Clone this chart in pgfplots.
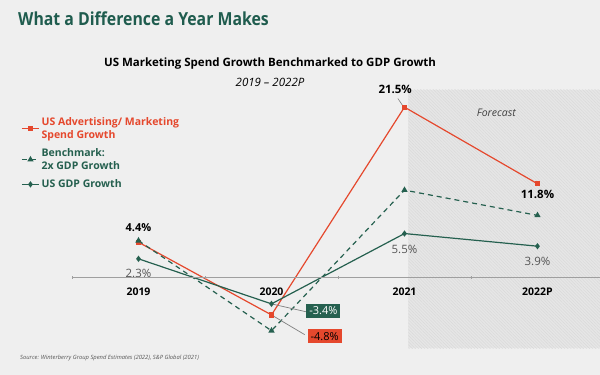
\documentclass[border=0pt]{standalone}
\usepackage{pgfplots}
\pgfplotsset{compat=1.18}
\usetikzlibrary{patterns.meta}
\usepackage{fontspec}
\setmainfont{Open Sans}
\newfontfamily\titlefont[FakeStretch=0.88]{Open Sans}
\definecolor{bg}{HTML}{EFEFEF}
\definecolor{fc}{HTML}{E6E6E6}
\definecolor{fcl}{HTML}{D9D9D9}
\definecolor{adred}{HTML}{E5482D}
\definecolor{teal}{HTML}{25604F}
\definecolor{titlecol}{HTML}{1F5C4E}
\definecolor{lblgray}{HTML}{555555}
\begin{document}
\begin{tikzpicture}
\fill[bg] (0,0) rectangle (600pt,-375pt);
\node[anchor=base west, font=\titlefont\bfseries\fontsize{18}{20}\selectfont, text=titlecol, inner sep=0] at (18pt,-25pt) {What a Difference a Year Makes};
\node[anchor=base, font=\bfseries\fontsize{11.5}{13}\selectfont, inner sep=0] at (270pt,-66pt) {US Marketing Spend Growth Benchmarked to GDP Growth};
\node[anchor=base, font=\itshape\fontsize{11.5}{13}\selectfont, inner sep=0] at (270pt,-86pt) {2019 – 2022P};
\node[anchor=base west, font=\itshape\fontsize{5.8}{6}\selectfont, text=lblgray, inner sep=0] at (20pt,-359pt) {Source: Winterberry Group Spend Estimates (2022), S\&P Global (2021)};
\begin{axis}[
  at={(72pt,-348.1pt)}, anchor=south west,
  scale only axis, width=528pt, height=260.7pt,
  xmin=-0.5, xmax=3.47, ymin=-9, ymax=24,
  axis x line=middle, axis y line=none,
  axis line style={-, draw=gray!75, line width=0.6pt},
  xtick={0,1,2,3}, xticklabels={2019,2020,2021,2022P},
  major tick length=0pt,
  minor xtick={-0.5,0.5,1.5,2.5}, minor tick length=3pt,
  minor tick style={gray!75},
  ytick=\empty,
  xticklabel style={font=\bfseries\fontsize{10.5}{12}\selectfont, yshift=-7pt},
  axis on top, clip=false,
  legend style={at={(axis description cs:-0.102,0.9)}, anchor=north west, draw=none, fill=none,
    font=\bfseries\fontsize{10.5}{12.5}\selectfont, row sep=5pt, cells={anchor=west, align=left}},
  legend cell align=left,
]
\fill[fc] (axis cs:2.03,-9) rectangle (axis cs:3.47,23.7);
\fill[pattern={Lines[angle=-45, distance=2.2pt, line width=0.45pt]}, pattern color=fcl] (axis cs:2.03,-9) rectangle (axis cs:3.47,23.7);
\addplot[adred, line width=1.2pt, mark=square*, mark size=2pt] coordinates {(0,4.4) (1,-4.8) (2,21.5) (3,11.8)};
\addlegendentry[text=adred]{US Advertising/ Marketing\\Spend Growth}
\addplot[teal, line width=1.2pt, dash pattern=on 5pt off 4pt, mark=triangle*, mark size=2.5pt, mark options={solid}] coordinates {(0,4.6) (1,-6.8) (2,11.0) (3,7.8)};
\addlegendentry[text=teal]{Benchmark:\\2x GDP Growth}
\addplot[teal, line width=1.2pt, mark=diamond*, mark size=2.2pt] coordinates {(0,2.3) (1,-3.4) (2,5.5) (3,3.9)};
\addlegendentry[text=teal]{US GDP Growth}
\node[font=\bfseries\fontsize{11}{12}\selectfont] at (axis cs:0,6.2) {4.4\%};
\node[font=\fontsize{11.5}{12}\selectfont, text=lblgray] at (axis cs:0,0.5) {2.3\%};
\node[font=\bfseries\fontsize{11.5}{12}\selectfont] at (axis cs:1.93,23.8) {21.5\%};
\node[font=\fontsize{11.5}{12}\selectfont, text=lblgray] at (axis cs:2,3.5) {5.5\%};
\node[font=\fontsize{11.5}{12}\selectfont, text=lblgray] at (axis cs:3,2.0) {3.9\%};
\node[font=\bfseries\fontsize{11.5}{12}\selectfont] at (axis cs:3,10.4) {11.8\%};
\node[font=\itshape\fontsize{10.5}{12}\selectfont, text=black!75] at (axis cs:2.69,20.8) {Forecast};
\draw[gray, line width=0.7pt] (axis cs:1,-3.4) -- (axis cs:1.26,-4.4);
\draw[gray, line width=0.7pt] (axis cs:1,-4.8) -- (axis cs:1.25,-7.3);
\draw[gray, line width=0.6pt] (axis cs:1.95,22.6) -- (axis cs:1.99,21.6);
\node[fill=teal, text=white, inner sep=3pt, font=\fontsize{11}{12}\selectfont] at (axis cs:1.39,-4.3) {-3.4\%};
\node[fill=adred, text=black, inner sep=3pt, font=\fontsize{11}{12}\selectfont] at (axis cs:1.40,-7.5) {-4.8\%};
\end{axis}
\pgfresetboundingbox
\path (0,0) rectangle (600pt,-375pt);
\end{tikzpicture}
\end{document}
